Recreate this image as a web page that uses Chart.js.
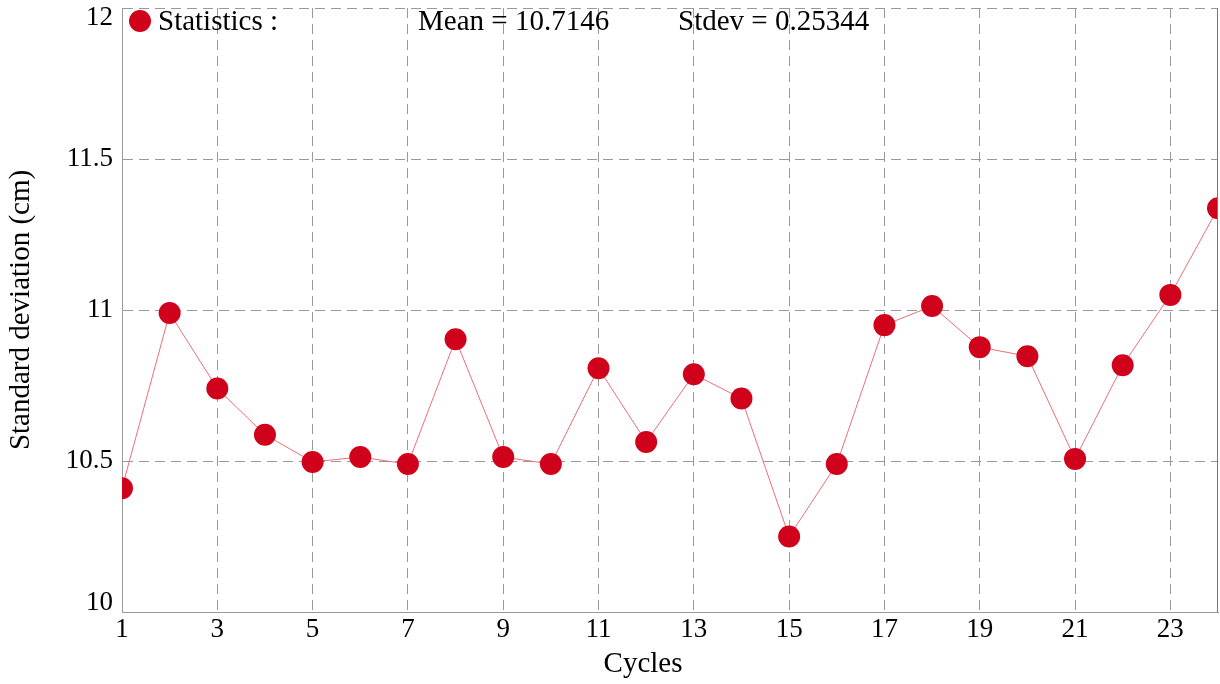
<!DOCTYPE html>
<html>
<head>
<meta charset="utf-8">
<script src="https://cdn.jsdelivr.net/npm/chart.js@4/dist/chart.umd.min.js"></script>
<style>
  html, body { margin: 0; padding: 0; background: #fff; }
  canvas { display: block; }
</style>
</head>
<body>
<canvas id="cycleChart" width="1220" height="684"></canvas>
<script>
// Data
const cycles = [1, 2, 3, 4, 5, 6, 7, 8, 9, 10, 11, 12, 13, 14, 15, 16, 17, 18, 19, 20, 21, 22, 23, 24];
const stdevValues = [10.41, 10.99, 10.74, 10.587, 10.497, 10.513, 10.49, 10.903, 10.513, 10.49, 10.807, 10.563,
                     10.787, 10.707, 10.25, 10.49, 10.95, 11.013, 10.877, 10.847, 10.507, 10.817, 11.05, 11.337];
const xTickValues = [1, 3, 5, 7, 9, 11, 13, 15, 17, 19, 21, 23];
const yTickValues = [10, 10.5, 11, 11.5, 12];
const statLabels = ['Statistics :', 'Mean = 10.7146', 'Stdev = 0.25344'];
const xTitle = 'Cycles';

const serif = '"Liberation Serif", "DejaVu Serif", serif';
const gridGrey = '#999';
const dotRed = '#d0021b';

// statistics line inside the plot, right frame, x title, and nudge the end y labels inward
const statsPlugin = {
    id: 'stats',
    beforeDraw(chart) {
        const items = chart.scales.y.getLabelItems();
        if (items.length && !items._nudged) {
            items[0].options.translation[1] -= 9;
            items[items.length - 1].options.translation[1] += 10;
            items._nudged = true;
        }
    },
    afterDraw(chart) {
        const ctx = chart.ctx;
        const area = chart.chartArea;
        ctx.save();
        ctx.strokeStyle = '#777';
        ctx.lineWidth = 1;
        ctx.beginPath();
        ctx.moveTo(area.right - 0.5, area.top);
        ctx.lineTo(area.right - 0.5, area.bottom);
        ctx.stroke();

        const y = area.top + 13;
        ctx.fillStyle = dotRed;
        ctx.beginPath();
        ctx.arc(area.left + 18, y, 11, 0, Math.PI * 2);
        ctx.fill();

        ctx.fillStyle = '#000';
        ctx.font = '29px ' + serif;
        ctx.textBaseline = 'middle';
        ctx.fillText(statLabels[0], area.left + 36, y + 1);
        ctx.fillText(statLabels[1], area.left + 296, y + 1);
        ctx.fillText(statLabels[2], area.left + 556, y + 1);

        // x axis title, sitting a little left of centre as in the source
        ctx.textAlign = 'center';
        ctx.fillText(xTitle, (area.left + area.right) / 2 - 27, area.bottom + 52);
        ctx.restore();
    }
};

const ctx = document.getElementById('cycleChart').getContext('2d');
const cycleChart = new Chart(ctx, {
    type: 'line',
    data: {
        labels: cycles,
        datasets: [{
            data: cycles.map((c, i) => ({ x: c, y: stdevValues[i] })),
            borderColor: '#ee6e78',
            borderWidth: 1,
            pointRadius: 11,
            pointBackgroundColor: dotRed,
            pointBorderWidth: 0,
            pointHoverRadius: 11,
            tension: 0,
            clip: 0
        }]
    },
    options: {
        responsive: false,
        animation: false,
        layout: { autoPadding: false, padding: { top: 8, right: 2, left: 0, bottom: 0 } },
        plugins: {
            legend: { display: false },
            tooltip: { enabled: false }
        },
        scales: {
            x: {
                type: 'linear',
                min: 1,
                max: 24,
                afterBuildTicks: (scale) => { scale.ticks = xTickValues.map(v => ({ value: v })); },
                afterFit: (scale) => { scale.height = 72; scale.paddingLeft = 0; scale.paddingRight = 0; },
                grid: { color: gridGrey, lineWidth: 1, drawTicks: false },
                border: { display: true, color: gridGrey, dash: [10, 6] },
                ticks: {
                    color: '#000',
                    font: { family: serif, size: 27 },
                    padding: 2,
                    maxRotation: 0,
                    autoSkip: false
                },
                title: { display: false }
            },
            y: {
                min: 10,
                max: 12,
                afterBuildTicks: (scale) => { scale.ticks = yTickValues.map(v => ({ value: v })); },
                afterFit: (scale) => { scale.width = 122; scale.paddingTop = 0; scale.paddingBottom = 0; },
                grid: { color: gridGrey, lineWidth: 1, drawTicks: false },
                border: { display: true, color: gridGrey, dash: [10, 6] },
                ticks: {
                    color: '#000',
                    font: { family: serif, size: 27 },
                    padding: 9,
                    callback: (v) => String(v)
                },
                title: {
                    display: true,
                    text: 'Standard deviation (cm)',
                    color: '#000',
                    font: { family: serif, size: 29 },
                    padding: { top: 4, bottom: 4 }
                }
            }
        }
    },
    plugins: [statsPlugin]
});
</script>
</body>
</html>
